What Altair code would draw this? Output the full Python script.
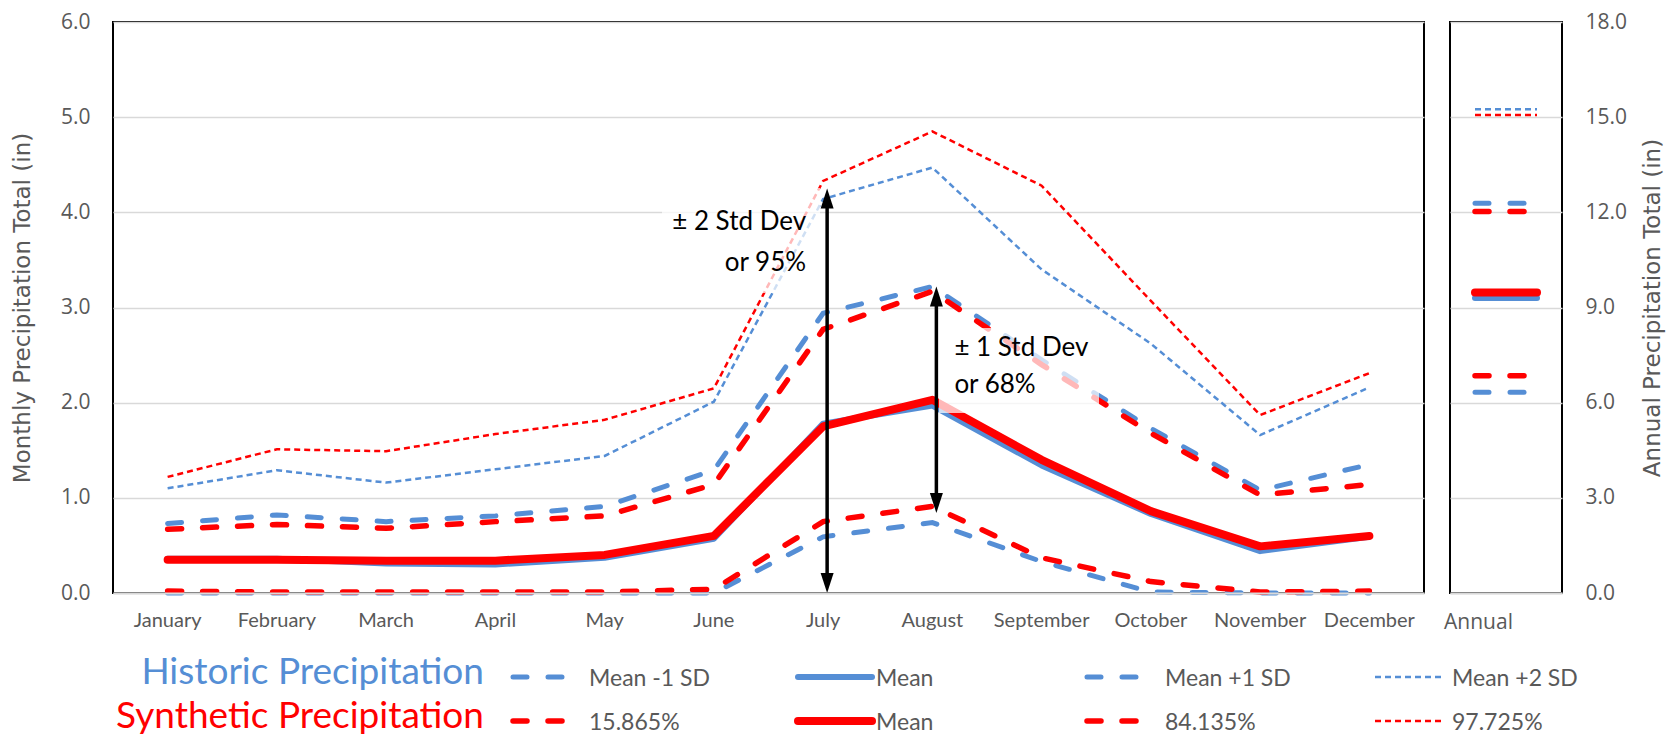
import altair as alt
import pandas as pd

# ---------------- data ----------------
months = ["January", "February", "March", "April", "May", "June", "July",
          "August", "September", "October", "November", "December"]

hist_minus1 = [0.00, 0.00, 0.00, 0.00, 0.00, 0.00, 0.59, 0.74, 0.33, 0.01, 0.00, 0.00]
hist_mean = [0.36, 0.36, 0.31, 0.30, 0.37, 0.57, 1.78, 1.97, 1.34, 0.83, 0.44, 0.59]
hist_plus1 = [0.73, 0.82, 0.75, 0.81, 0.91, 1.29, 2.94, 3.22, 2.45, 1.73, 1.08, 1.35]
hist_plus2 = [1.10, 1.29, 1.16, 1.30, 1.44, 2.01, 4.14, 4.47, 3.40, 2.62, 1.66, 2.16]

synth_p15865 = [0.02, 0.01, 0.01, 0.01, 0.01, 0.04, 0.75, 0.91, 0.37, 0.12, 0.01, 0.02]
synth_mean = [0.35, 0.35, 0.34, 0.34, 0.40, 0.60, 1.75, 2.03, 1.40, 0.86, 0.49, 0.60]
synth_p84135 = [0.67, 0.72, 0.68, 0.75, 0.81, 1.14, 2.77, 3.17, 2.40, 1.68, 1.03, 1.14]
synth_p97725 = [1.22, 1.51, 1.49, 1.67, 1.82, 2.15, 4.33, 4.85, 4.28, 3.07, 1.87, 2.31]

# annual totals, order: -1SD / mean / +1SD / +2SD
annual_hist = [6.33, 9.30, 12.29, 15.25]
annual_synth = [6.85, 9.47, 12.03, 15.07]
annual_category = ["Annual"]

legend_groups = ["Historic Precipitation", "Synthetic Precipitation"]
hist_labels = ["Mean -1 SD", "Mean", "Mean +1 SD", "Mean +2 SD"]
synth_labels = ["15.865%", "Mean", "84.135%", "97.725%"]

arrow_months = ["July", "August"]
arrow_low = [0.0, 0.84]
arrow_high = [4.25, 3.22]

note1_lines = ["± 2 Std Dev", "or 95%"]
note1_values = [3.90, 3.47]
note2_lines = ["± 1 Std Dev", "or 68%"]
note2_values = [2.57, 2.19]

# ---------------- styles ----------------
BLUE = "#558ED5"
RED = "#FF0000"
GREY = "#595959"
GRID = "#D9D9D9"
CAL = "Lato"
SEG = "Open Sans"
TITLE_FONT = "DejaVu Sans"

DASH = [14, 21]
DOT = [6, 4]


def kind_style(kind, color):
    if kind == 1:
        return dict(strokeWidth=8 if color == RED else 6, strokeCap="round", strokeJoin="round")
    if kind == 3:
        return dict(strokeWidth=2.5, strokeDash=DOT, strokeCap="butt")
    return dict(strokeWidth=5.5 if color == RED else 5, strokeDash=DASH, strokeCap="round")


one = pd.DataFrame({"k": [0]})

# ---------------- monthly panel ----------------
x_enc = alt.X(
    "month:N", sort=months, scale=alt.Scale(domain=months),
    axis=alt.Axis(title=None, labelAngle=0, labelFont=CAL, labelFontSize=20,
                  labelColor=GREY, labelPadding=17, ticks=False, domainColor=GRID,
                  domainWidth=2, grid=False, zindex=1),
)
y_enc = alt.Y(
    "value:Q", scale=alt.Scale(domain=[0, 6], nice=False),
    axis=alt.Axis(values=[0, 1, 2, 3, 4, 5, 6], format=".1f", grid=True, gridColor=GRID,
                  gridWidth=1.5, domain=False, ticks=False, labelFont=SEG, labelFontSize=21,
                  labelColor=GREY, labelPadding=23, title="Monthly Precipitation Total (in)",
                  titleFont=TITLE_FONT, titleFontSize=23, titleColor=GREY,
                  titleFontWeight="normal", titlePadding=26),
)


def month_df(vals):
    return pd.DataFrame({"month": months, "value": vals})


series_order = [
    (hist_plus2, BLUE, 3), (synth_p97725, RED, 3),
    (hist_plus1, BLUE, 2), (synth_p84135, RED, 2),
    (hist_minus1, BLUE, 0), (synth_p15865, RED, 0),
    (hist_mean, BLUE, 1), (synth_mean, RED, 1),
]

layers = []
for vals, color, kind in series_order:
    layers.append(
        alt.Chart(month_df(vals)).mark_line(color=color, **kind_style(kind, color))
        .encode(x=x_enc, y=y_enc)
    )

# semi-transparent boxes behind annotation text (pixel layout inside the plot)
layers.append(alt.Chart(one).mark_rect(fill="white", fillOpacity=0.72).encode(
    x=alt.value(549), x2=alt.value(707), y=alt.value(166), y2=alt.value(271)))
layers.append(alt.Chart(one).mark_rect(fill="white", fillOpacity=0.72).encode(
    x=alt.value(826), x2=alt.value(986), y=alt.value(306), y2=alt.value(391)))

note1 = pd.DataFrame({"month": ["July"] * 2, "value": note1_values, "text": note1_lines})
note2 = pd.DataFrame({"month": ["August"] * 2, "value": note2_values, "text": note2_lines})
layers.append(alt.Chart(note1).mark_text(font=CAL, fontSize=26, color="black", align="right",
                                         baseline="middle", dx=-17)
              .encode(x=x_enc, y=y_enc, text="text:N"))
layers.append(alt.Chart(note2).mark_text(font=CAL, fontSize=26, color="black", align="left",
                                         baseline="middle", dx=22)
              .encode(x=x_enc, y=y_enc, text="text:N"))

arrow_rule = pd.DataFrame({"month": arrow_months, "value": arrow_high, "low": arrow_low})
arrow_top = pd.DataFrame({"month": arrow_months, "value": arrow_high})
arrow_bot = pd.DataFrame({"month": arrow_months, "value": arrow_low})
UP = "M0,0 L0.65,2 L-0.65,2 Z"
DOWN = "M0,0 L0.65,-2 L-0.65,-2 Z"
layers.append(alt.Chart(arrow_rule).mark_rule(color="black", strokeWidth=3.5, xOffset=4,
                                              yOffset=14, y2Offset=-14)
              .encode(x=x_enc, y=y_enc, y2=alt.Y2("low:Q")))
layers.append(alt.Chart(arrow_top).mark_point(shape=UP, size=400, filled=True, color="black",
                                              opacity=1, strokeWidth=0, xOffset=4)
              .encode(x=x_enc, y=y_enc))
layers.append(alt.Chart(arrow_bot).mark_point(shape=DOWN, size=400, filled=True, color="black",
                                              opacity=1, strokeWidth=0, xOffset=4)
              .encode(x=x_enc, y=y_enc))

# ---------------- custom legend below the plot (pixel layout) ----------------
row_y = [655, 699]
row_color = [BLUE, RED]
row_labels = [hist_labels, synth_labels]
sym_x = [(400, 456), (685, 759), (974, 1029), (1262, 1330)]
label_x = [476, 763, 1052, 1339]

for r in range(2):
    layers.append(
        alt.Chart(pd.DataFrame({"t": [legend_groups[r]]}))
        .mark_text(font=CAL, fontSize=37, color=row_color[r], align="right",
                   baseline="alphabetic", dy=7)
        .encode(x=alt.value(371), y=alt.value(row_y[r]), text="t:N")
    )
    for k in range(4):
        layers.append(
            alt.Chart(one).mark_rule(color=row_color[r], **kind_style(k, row_color[r]))
            .encode(x=alt.value(sym_x[k][0]), x2=alt.value(sym_x[k][1]),
                    y=alt.value(row_y[r]), y2=alt.value(row_y[r]))
        )
        layers.append(
            alt.Chart(pd.DataFrame({"t": [row_labels[r][k]]}))
            .mark_text(font=CAL, fontSize=23, color=GREY, align="left",
                       baseline="alphabetic", dy=9)
            .encode(x=alt.value(label_x[k]), y=alt.value(row_y[r]), text="t:N")
        )

monthly = alt.layer(*layers).properties(
    width=1311, height=571,
    view=alt.ViewBackground(stroke="black", strokeWidth=2),
)

# ---------------- annual panel ----------------
ay_enc = alt.Y(
    "value:Q", scale=alt.Scale(domain=[0, 18], nice=False),
    axis=alt.Axis(orient="right", values=[0, 3, 6, 9, 12, 15, 18], format=".1f", grid=True,
                  gridColor=GRID, gridWidth=1.5, domain=False, ticks=False, labelFont=SEG,
                  labelFontSize=21, labelColor=GREY, labelPadding=23,
                  title="Annual Precipitation Total (in)", titleFont=TITLE_FONT,
                  titleFontSize=23, titleColor=GREY, titleFontWeight="normal",
                  titleAngle=270, titleBaseline="top", titlePadding=15),
)

alayers = [
    alt.Chart(pd.DataFrame({"cat": annual_category, "value": [0.0]})).mark_point(opacity=0)
    .encode(
        x=alt.X("cat:N", scale=alt.Scale(domain=annual_category),
                axis=alt.Axis(title=None, labelAngle=0, labelFont=SEG, labelFontSize=21,
                              labelColor=GREY, labelPadding=18, labelOffset=-28, ticks=False,
                              domainColor=GRID, domainWidth=2, zindex=1)),
        y=ay_enc,
    )
]
for kind in [3, 2, 0, 1]:
    for vals, color in [(annual_hist, BLUE), (annual_synth, RED)]:
        alayers.append(
            alt.Chart(pd.DataFrame({"value": [vals[kind]]}))
            .mark_rule(color=color, **kind_style(kind, color))
            .encode(x=alt.value(25), x2=alt.value(87), y=ay_enc)
        )

annual = alt.layer(*alayers).properties(
    width=112, height=571,
    view=alt.ViewBackground(stroke="black", strokeWidth=2),
)

chart = alt.hconcat(monthly, annual, spacing=26, bounds="flush").properties(
    padding={"left": 2, "top": 2, "right": 5, "bottom": 0},
    background="white",
)

chart.save("out.html", embed_options={"renderer": "svg", "actions": False})
